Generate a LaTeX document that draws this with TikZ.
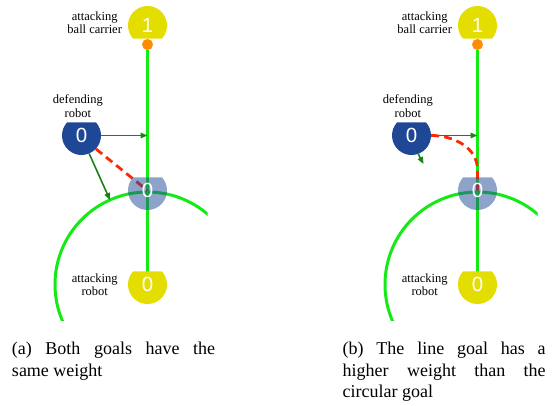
\documentclass[tikz,border=0pt]{standalone}
\usepackage{fontspec}
\setmainfont{Liberation Serif}
\newfontfamily\numfont{Liberation Sans}
\usetikzlibrary{arrows.meta}
\definecolor{robotyellow}{RGB}{228,221,0}
\definecolor{ballorange}{RGB}{255,140,0}
\definecolor{defblue}{RGB}{30,72,150}
\definecolor{goalgreen}{RGB}{20,235,20}
\definecolor{pushgreen}{RGB}{25,130,20}
\definecolor{pathred}{RGB}{255,40,0}
% robot body: circle with a flat front facing angle #2
\newcommand\robotbody[3]{%
  \fill[#3] (#1.center) ++({#2+48}:19.5) arc[start angle={#2+48}, end angle={#2+312}, radius=19.5] -- cycle;}
\newcommand\captsetup{\tolerance=10000\relax\hbadness=10000\relax\hyphenpenalty=10000\relax}
\begin{document}
\begin{tikzpicture}[x=1pt,y=1pt,
  goal/.style={draw=goalgreen, line width=3pt},
  push/.style={draw=pushgreen, line width=1.6pt, -{Triangle[length=7pt,width=5.5pt]}},
  dashpath/.style={draw=pathred, line width=2.8pt, dash pattern=on 8pt off 5pt},
  robotshape/.style={circle, minimum size=39pt, inner sep=0pt},
  ballshape/.style={circle, minimum size=11pt, inner sep=0pt, fill=ballorange},
  robotnum/.style={inner sep=0pt, text=white, font=\numfont\fontsize{20.5}{20.5}\selectfont},
  lbl/.style={align=center, inner sep=0pt, anchor=north, font=\rmfamily\fontsize{12.5}{13.5}\selectfont},
  capt/.style={text width=203pt, align=justify, inner sep=0pt, anchor=north west,
    font=\rmfamily\fontsize{18}{21.7}\selectfont}]
\useasboundingbox (0,0) rectangle (556,405);

% ---------------- panel (a) ----------------
\node[robotshape] (carA) at (147.5,379.5) {};
\node[robotshape] (defA) at (81.5,269.5) {};
\node[robotshape] (ghostA) at (147.5,214.5) {};
\node[robotshape] (attA) at (147.5,120.5) {};
\coordinate (hitA) at (147.5,269.5);
\coordinate (dodgeA) at (110,205);
\begin{scope}
  \clip (0,85) rectangle (207.5,405);
  \draw[goal] (attA.center) circle[radius=92.5];
\end{scope}
\node[ballshape] (ballA) at (147.5,360.5) {};
\draw[goal] (ballA.south) -- (attA.center);
\draw[push] (defA.east) -- (hitA);
\draw[push] (defA.-67) -- (dodgeA);
\draw[dashpath] (defA.-43) -- (ghostA.center);
\robotbody{ghostA}{90}{defblue, fill opacity=0.5}
\robotbody{carA}{-90}{robotyellow}
\robotbody{defA}{90}{defblue}
\robotbody{attA}{90}{robotyellow}
\node[robotnum] (carA-n) at (carA) {1};
\node[robotnum] (defA-n) at (defA) {0};
\node[robotnum] (ghostA-n) at (ghostA) {0};
\node[robotnum] (attA-n) at (attA) {0};
\node[lbl] (carA-l) at (94.7,393.5) {attacking\\ball carrier};
\node[lbl] (defA-l) at (77.8,310.5) {defending\\robot};
\node[lbl] (attA-l) at (94.7,131.8) {attacking\\robot};
\node[capt] (captA) at (11.8,63.3) {\captsetup (a) Both goals have the\linebreak same weight};

% ---------------- panel (b) ----------------
\node[robotshape] (carB) at (477.5,379.5) {};
\node[robotshape] (defB) at (411.5,269.5) {};
\node[robotshape] (ghostB) at (477.5,214.5) {};
\node[robotshape] (attB) at (477.5,120.5) {};
\coordinate (hitB) at (477.5,269.5);
\coordinate (dodgeB) at (423.5,241);
\coordinate (bendB) at (477.5,235);
\begin{scope}
  \clip (330,85) rectangle (537.5,405);
  \draw[goal] (attB.center) circle[radius=92.5];
\end{scope}
\node[ballshape] (ballB) at (477.5,360.5) {};
\draw[goal] (ballB.south) -- (attB.center);
\draw[push] (defB.east) -- (hitB);
\draw[push] (defB.-70) -- (dodgeB);
\draw[dashpath] (defB.east) to[out=0,in=90] (bendB) -- (ghostB.center);
\robotbody{ghostB}{90}{defblue, fill opacity=0.5}
\robotbody{carB}{-90}{robotyellow}
\robotbody{defB}{90}{defblue}
\robotbody{attB}{90}{robotyellow}
\node[robotnum] (carB-n) at (carB) {1};
\node[robotnum] (defB-n) at (defB) {0};
\node[robotnum] (ghostB-n) at (ghostB) {0};
\node[robotnum] (attB-n) at (attB) {0};
\node[lbl] (carB-l) at (424.7,393.5) {attacking\\ball carrier};
\node[lbl] (defB-l) at (407.8,310.5) {defending\\robot};
\node[lbl] (attB-l) at (424.7,131.8) {attacking\\robot};
\node[capt] (captB) at (342.5,63.3) {\captsetup (b) The line goal has a\linebreak higher weight than the\linebreak circular goal};
\end{tikzpicture}
\end{document}
